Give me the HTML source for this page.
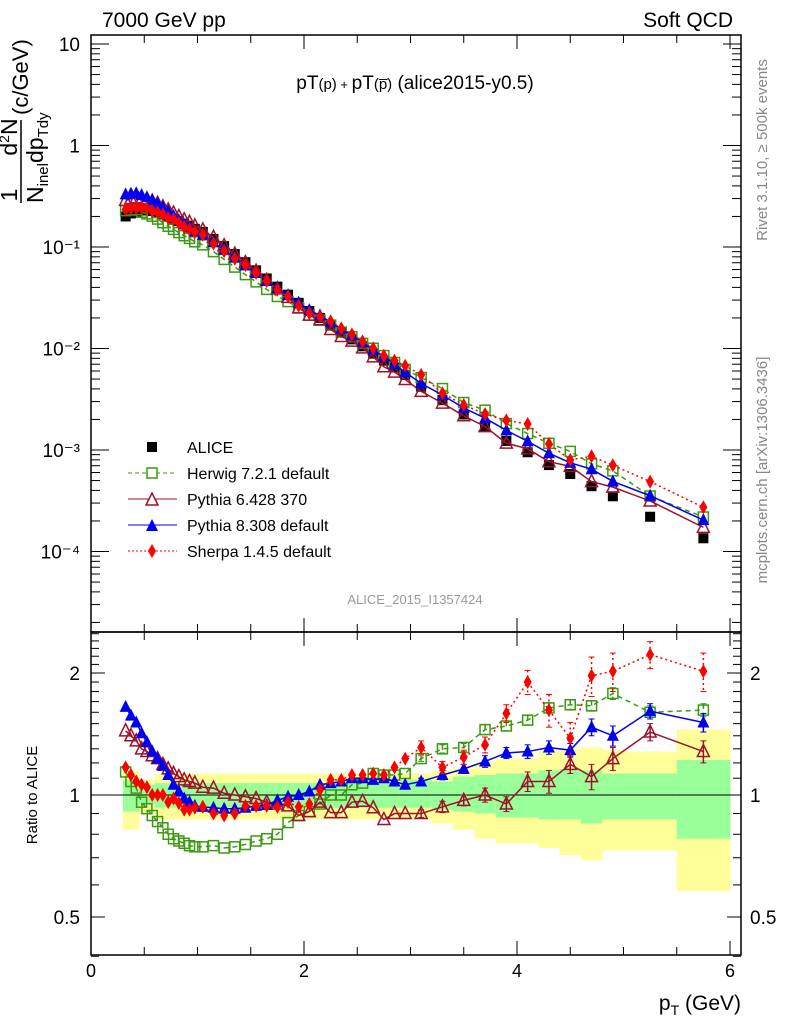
<!DOCTYPE html>
<html><head><meta charset="utf-8"><style>
html,body{margin:0;padding:0;background:#fff;}
svg{display:block;font-family:"Liberation Sans",Arial,sans-serif;}
</style></head><body>
<svg id="c" width="786" height="1024" viewBox="0 0 786 1024" xmlns="http://www.w3.org/2000/svg">
<rect width="786" height="1024" fill="#fff"/>
<g id="bands"></g><g id="axes"></g><g id="marks"></g>
<text x="102" y="27" font-size="21">7000 GeV pp</text>
<text x="733" y="27" font-size="21" text-anchor="end">Soft QCD</text>
<text x="415" y="89" font-size="19" text-anchor="middle">pT<tspan font-size="15">(p)</tspan><tspan font-size="13"> + </tspan>pT<tspan font-size="15">(p̅)</tspan> (alice2015-y0.5)</text>
<text x="415" y="604" font-size="13" fill="#999" text-anchor="middle">ALICE_2015_I1357424</text>
<text transform="translate(767,150) rotate(-90)" font-size="15" fill="#888" text-anchor="middle">Rivet 3.1.10, ≥ 500k events</text>
<text transform="translate(767,470) rotate(-90)" font-size="15" fill="#888" text-anchor="middle">mcplots.cern.ch [arXiv:1306.3436]</text>
<g font-size="23">
<text transform="translate(17,195) rotate(-90)" text-anchor="middle">1</text>
<text transform="translate(17,137) rotate(-90)" text-anchor="middle">d<tspan font-size="14" dy="-8">2</tspan><tspan dy="8">N</tspan></text>
<line x1="21" y1="203" x2="21" y2="120" stroke="#000" stroke-width="1.5"/>
<text transform="translate(43,203) rotate(-90)">N<tspan font-size="15" dy="5">inel</tspan><tspan dy="-5">dp</tspan><tspan font-size="15" dy="5">Tdy</tspan></text>
<text transform="translate(28,115) rotate(-90)" font-size="22">(c/GeV)</text>
</g>
<text transform="translate(37,795) rotate(-90)" font-size="15" text-anchor="middle">Ratio to ALICE</text>
<text x="741" y="1010" font-size="21" text-anchor="end">p<tspan font-size="14" dy="5">T</tspan><tspan dy="-5"> (GeV)</tspan></text>
<g font-size="16">
<g><rect x="147" y="442" width="10" height="10" fill="#000"/><text x="187" y="453">ALICE</text></g>
<g><line x1="128" y1="473" x2="177" y2="473" stroke="#3a9a10" stroke-dasharray="4,3"/><rect x="147" y="468" width="10" height="10" fill="#fff" stroke="#3a9a10" stroke-width="1.5"/><text x="187" y="479">Herwig 7.2.1 default</text></g>
<g><line x1="128" y1="499" x2="177" y2="499" stroke="#a0102a"/><path d="M146,505 L158,505 L152,493 Z" fill="#fff" stroke="#a0102a" stroke-width="1.5"/><text x="187" y="505">Pythia 6.428 370</text></g>
<g><line x1="128" y1="525" x2="177" y2="525" stroke="#0000ee"/><path d="M146,531 L158,531 L152,519 Z" fill="#0000ee"/><text x="187" y="531">Pythia 8.308 default</text></g>
<g><line x1="128" y1="551" x2="177" y2="551" stroke="#f00" stroke-dasharray="2,2"/><path d="M152,544 L156,551 L152,558 L148,551 Z" fill="#f00"/><text x="187" y="557">Sherpa 1.4.5 default</text></g>
</g>
</svg>
<script>
const binLo=[0.30,0.35,0.40,0.45,0.50,0.55,0.60,0.65,0.70,0.75,0.80,0.85,0.90,0.95,1.0,1.1,1.2,1.3,1.4,1.5,1.6,1.7,1.8,1.9,2.0,2.1,2.2,2.3,2.4,2.5,2.6,2.7,2.8,2.9,3.0,3.2,3.4,3.6,3.8,4.0,4.2,4.4,4.6,4.8,5.0,5.5];
const binHi=[0.35,0.40,0.45,0.50,0.55,0.60,0.65,0.70,0.75,0.80,0.85,0.90,0.95,1.0,1.1,1.2,1.3,1.4,1.5,1.6,1.7,1.8,1.9,2.0,2.1,2.2,2.3,2.4,2.5,2.6,2.7,2.8,2.9,3.0,3.2,3.4,3.6,3.8,4.0,4.2,4.4,4.6,4.8,5.0,5.5,6.0];
const aliceVals=[0.200,0.214,0.224,0.229,0.229,0.226,0.219,0.209,0.200,0.191,0.180,0.170,0.162,0.151,0.141,0.120,0.102,0.0851,0.0708,0.0589,0.0490,0.0407,0.0339,0.0282,0.0234,0.0200,0.0170,0.0145,0.0123,0.0105,0.0089,0.0076,0.0065,0.0055,0.0042,0.0031,0.00224,0.0017,0.00123,0.00095,0.00071,0.00058,0.00044,0.00035,0.00022,0.000135];
const herwigRatio=[1.14,1.08,1.04,0.96,0.925,0.89,0.86,0.83,0.80,0.78,0.77,0.76,0.75,0.745,0.745,0.75,0.74,0.745,0.755,0.77,0.78,0.80,0.855,0.89,0.91,0.95,1.0,1.0,1.06,1.07,1.13,1.12,1.12,1.13,1.23,1.30,1.31,1.45,1.48,1.53,1.64,1.67,1.66,1.78,1.60,1.62];
const pythia6Ratio=[1.44,1.40,1.36,1.30,1.28,1.25,1.23,1.19,1.16,1.13,1.11,1.09,1.08,1.07,1.045,1.04,1.01,1.0,0.99,0.98,0.96,0.95,0.94,0.89,0.91,0.96,0.905,0.905,0.96,0.965,0.93,0.87,0.90,0.90,0.90,0.935,0.97,1.0,0.95,1.08,1.08,1.19,1.11,1.23,1.43,1.28];
const pythia8Ratio=[1.65,1.57,1.51,1.42,1.35,1.28,1.23,1.18,1.12,1.06,1.02,0.98,0.96,0.94,0.935,0.93,0.925,0.925,0.93,0.94,0.945,0.97,0.99,1.0,1.02,1.06,1.07,1.08,1.10,1.10,1.09,1.10,1.08,1.06,1.08,1.12,1.16,1.21,1.27,1.28,1.31,1.29,1.47,1.40,1.61,1.51];
const sherpaRatio=[1.17,1.12,1.08,1.06,1.045,1.0,1.0,1.0,0.96,0.98,0.955,0.92,0.92,0.93,0.935,0.90,0.89,0.90,0.94,0.94,0.94,0.935,0.96,0.935,0.95,1.03,1.09,1.09,1.12,1.12,1.13,1.12,1.17,1.23,1.31,1.17,1.24,1.33,1.59,1.90,1.62,1.38,1.97,2.02,2.22,2.02];
const herwigErr=[0.02,0.03,0.03,0.04,0.04,0.04,0.05,0.05,0.05,0.06,0.06,0.06];
const pythia6Err=[0.02,0.03,0.03,0.04,0.04,0.06,0.07,0.06,0.08,0.08,0.07,0.08];
const pythia8Err=[0.02,0.03,0.03,0.04,0.04,0.05,0.05,0.05,0.07,0.08,0.07,0.08];
const sherpaErr=[0.05,0.04,0.05,0.06,0.08,0.13,0.15,0.13,0.22,0.22,0.17,0.22];
const yellowHi=[1.15,1.15,1.15,1.09,1.09,1.09,1.13,1.13,1.13,1.13,1.13,1.13,1.13,1.13,1.13,1.13,1.13,1.13,1.13,1.13,1.13,1.13,1.13,1.13,1.13,1.13,1.13,1.13,1.13,1.13,1.13,1.13,1.13,1.13,1.13,1.15,1.17,1.21,1.23,1.23,1.28,1.30,1.31,1.29,1.28,1.45];
const yellowLo=[0.82,0.82,0.82,0.90,0.90,0.90,0.87,0.87,0.87,0.87,0.87,0.87,0.87,0.87,0.87,0.87,0.87,0.87,0.87,0.87,0.87,0.87,0.87,0.87,0.87,0.87,0.87,0.87,0.87,0.87,0.87,0.87,0.87,0.87,0.87,0.85,0.82,0.78,0.76,0.76,0.74,0.71,0.69,0.73,0.73,0.58];
const greenHi=[1.09,1.09,1.09,1.06,1.06,1.06,1.07,1.07,1.07,1.07,1.07,1.07,1.07,1.07,1.07,1.07,1.07,1.07,1.07,1.07,1.07,1.07,1.07,1.07,1.07,1.07,1.07,1.07,1.07,1.07,1.07,1.07,1.08,1.09,1.09,1.08,1.11,1.12,1.13,1.13,1.15,1.16,1.15,1.13,1.13,1.22];
const greenLo=[0.91,0.91,0.91,0.95,0.95,0.95,0.93,0.93,0.93,0.93,0.93,0.93,0.93,0.93,0.93,0.93,0.93,0.93,0.93,0.93,0.93,0.93,0.93,0.93,0.93,0.93,0.93,0.93,0.93,0.93,0.93,0.93,0.93,0.93,0.93,0.92,0.91,0.90,0.88,0.88,0.87,0.87,0.85,0.87,0.87,0.78];
const xTicks=["0","2","4","6"];
const mainTicks=["10","1","10⁻¹","10⁻²","10⁻³","10⁻⁴"];
const ratioTicks=["2","1","0.5"];

const NS="http://www.w3.org/2000/svg";
const L=91,R=741,T=35,MB=632,RB=955;
const X=x=>L+x*106.5;
const YM=v=>44+(1-Math.log10(v))*101.5;
const YR=r=>795-Math.log2(r)*122;
function mk(tag,attrs,parent){const e=document.createElementNS(NS,tag);for(const k in attrs)e.setAttribute(k,attrs[k]);parent.appendChild(e);return e;}
const bandsG=document.getElementById('bands'),axes=document.getElementById('axes'),marks=document.getElementById('marks');
const cx=binLo.map((l,i)=>(l+binHi[i])/2);

for(let i=0;i<binLo.length;i++){
  const y=mk('rect',{x:X(binLo[i]),width:X(binHi[i])-X(binLo[i])+0.5,y:YR(yellowHi[i]),height:YR(yellowLo[i])-YR(yellowHi[i]),fill:'#ffff99'},bandsG);
  
  
  const g=mk('rect',{x:X(binLo[i]),width:X(binHi[i])-X(binLo[i])+0.5,y:YR(greenHi[i]),height:YR(greenLo[i])-YR(greenHi[i]),fill:'#99ff99'},bandsG);
  
  
}
const f1=mk('rect',{x:L,y:T,width:R-L,height:MB-T,fill:'none',stroke:'#000','stroke-width':1.5},axes);


const f2=mk('rect',{x:L,y:MB,width:R-L,height:RB-MB,fill:'none',stroke:'#000','stroke-width':1.5},axes);


const one=mk('line',{x1:L,x2:R,y1:YR(1),y2:YR(1),stroke:'#000','stroke-width':1},axes);


for(let k=0;k<=12;k++){const x=X(k*0.5),len=k%4===0?14:8;
  for(const [y0,d] of [[T,1],[MB,-1],[MB,1],[RB,-1]]) mk('line',{x1:x,x2:x,y1:y0,y2:y0+d*len,stroke:'#000'},axes);}
xTicks.forEach((t,i)=>{const e=mk('text',{x:X(i*2),y:977,'font-size':18,'text-anchor':'middle'},axes);e.textContent=t;
  
  });
for(let d=-5;d<=1;d++){for(let m=1;m<10;m++){const v=m*Math.pow(10,d);const y=YM(v);if(y<T||y>MB)continue;
  const len=m===1?18:9;mk('line',{x1:L,x2:L+len,y1:y,y2:y,stroke:'#000'},axes);mk('line',{x1:R,x2:R-len,y1:y,y2:y,stroke:'#000'},axes);}}
mainTicks.forEach((t,i)=>{const e=mk('text',{x:80,y:YM(Math.pow(10,1-i))+7,'font-size':19,'text-anchor':'end'},axes);e.textContent=t;
  
  });
[0.4,0.5,0.6,0.7,0.8,0.9,1,1.1,1.2,1.3,1.4,1.5,1.6,1.7,1.8,1.9,2,2.1,2.2,2.3,2.4,2.5].forEach(r=>{const y=YR(r);const len=(r===0.5||r===1||r===2)?14:8;
  mk('line',{x1:L,x2:L+len,y1:y,y2:y,stroke:'#000'},axes);mk('line',{x1:R,x2:R-len,y1:y,y2:y,stroke:'#000'},axes);});
ratioTicks.forEach(t=>{const y=YR(parseFloat(t))+7;
  const a=mk('text',{x:80,y:y,'font-size':19,'text-anchor':'end'},axes);a.textContent=t;
  
  
  const b=mk('text',{x:750,y:y,'font-size':19},axes);b.textContent=t;
  
  });

function marker(type,col,x,y,parent){
  if(type==='sq') return mk('rect',{x:x-5,y:y-5,width:10,height:10,fill:'#000'},parent);
  if(type==='osq') return mk('rect',{x:x-5,y:y-5,width:10,height:10,fill:'none',stroke:col,'stroke-width':1.5},parent);
  if(type==='otri') return mk('path',{d:`M${x-6},${y+5}L${x+6},${y+5}L${x},${y-7}Z`,fill:'none',stroke:col,'stroke-width':1.5},parent);
  if(type==='tri') return mk('path',{d:`M${x-6},${y+5}L${x+6},${y+5}L${x},${y-7}Z`,fill:col},parent);
  return mk('path',{d:`M${x},${y-7}L${x+4},${y}L${x},${y+7}L${x-4},${y}Z`,fill:col},parent);
}
const series=[
 {name:'herwig',r:herwigRatio,err:herwigErr,col:'#3a9a10',m:'osq',dash:'5,4',w:1.5},
 {name:'pythia6',r:pythia6Ratio,err:pythia6Err,col:'#a0102a',m:'otri',dash:'',w:1.5},
 {name:'pythia8',r:pythia8Ratio,err:pythia8Err,col:'#0000ee',m:'tri',dash:'',w:1.5},
 {name:'sherpa',r:sherpaRatio,err:sherpaErr,col:'#ff0000',m:'dia',dash:'2,3',w:1.5}
];
aliceVals.forEach((v,i)=>{const e=marker('sq','#000',X(cx[i]),YM(v),marks);
  
  });
series.forEach(s=>{
  const g=mk('g',{},marks);
  
  
  const mainPts=s.r.map((r,i)=>[X(cx[i]),YM(r*aliceVals[i])]);
  const ratPts=s.r.map((r,i)=>[X(cx[i]),YR(r)]);
  const l1=mk('polyline',{points:mainPts.map(p=>p.join(',')).join(' '),fill:'none',stroke:s.col,'stroke-width':s.w,'stroke-dasharray':s.dash},g);
  
  
  const l2=mk('polyline',{points:ratPts.map(p=>p.join(',')).join(' '),fill:'none',stroke:s.col,'stroke-width':s.w,'stroke-dasharray':s.dash},g);
  
  
  const off=s.r.length-s.err.length;
  s.err.forEach((e,j)=>{const i=off+j,x=X(cx[i]);const y1=YR(s.r[i]+e),y2=YR(s.r[i]-e);
    mk('line',{x1:x,x2:x,y1:y1,y2:y2,stroke:s.col,'stroke-width':1.5,'stroke-dasharray':s.dash},g);
    mk('line',{x1:x-3,x2:x+3,y1:y1,y2:y1,stroke:s.col},g);mk('line',{x1:x-3,x2:x+3,y1:y2,y2:y2,stroke:s.col},g);});
  mainPts.forEach(p=>{const e=marker(s.m,s.col,p[0],p[1],g);
    
    });
  ratPts.forEach(p=>{const e=marker(s.m,s.col,p[0],p[1],g);
    
    });
});
</script>
</body></html>
